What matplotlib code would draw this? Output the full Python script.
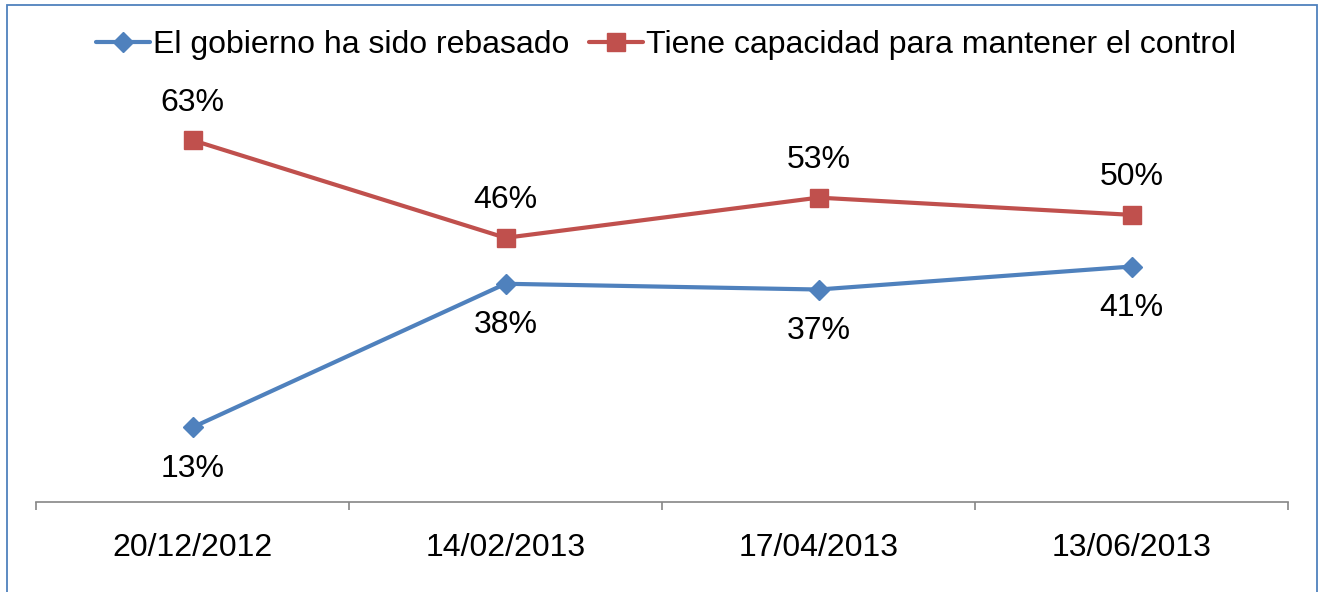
import matplotlib
matplotlib.use("Agg")
import matplotlib.pyplot as plt
from matplotlib.patches import Rectangle

plt.rcParams['font.family'] = ['Liberation Sans', 'DejaVu Sans']

categories = ["20/12/2012", "14/02/2013", "17/04/2013", "13/06/2013"]
rebasado = [13, 38, 37, 41]
control = [63, 46, 53, 50]
label_rebasado = "El gobierno ha sido rebasado"
label_control = "Tiene capacidad para mantener el control"

blue = "#4F81BD"
red = "#C0504D"
W, H = 1324, 592
fig = plt.figure(figsize=(W / 100, H / 100), dpi=100)
ax = fig.add_axes([36 / W, 90 / H, (1288 - 36) / W, 402 / H])

x = list(range(len(categories)))
ax.plot(x, rebasado, color=blue, lw=3.0, marker='D', ms=10, mec=blue, mfc=blue,
        label=label_rebasado, solid_capstyle='round')
ax.plot(x, control, color=red, lw=3.0, marker='s', ms=13.5, mec=red, mfc=red,
        label=label_control, solid_capstyle='round')

fs = 23
for xi, v in zip(x, rebasado):
    ax.annotate(f"{v}%", (xi, v), xytext=(0, -30), textcoords='offset points',
                ha='center', va='center', fontsize=fs, color='black')
for xi, v in zip(x, control):
    ax.annotate(f"{v}%", (xi, v), xytext=(0, 27), textcoords='offset points',
                ha='center', va='center', fontsize=fs, color='black')

ax.set_xlim(-0.5, len(categories) - 0.5)
ax.set_ylim(0, 70)
for s in ['top', 'right', 'left']:
    ax.spines[s].set_visible(False)
ax.spines['bottom'].set_color('#868686')
ax.spines['bottom'].set_linewidth(1.2)
ax.set_yticks([])
ax.set_xticks([i - 0.5 for i in range(len(categories) + 1)])
ax.set_xticklabels([])
ax.tick_params(axis='x', which='major', length=6, width=1.2, color='#868686', direction='out')
ax.set_xticks(x, minor=True)
ax.set_xticklabels(categories, minor=True, fontsize=fs)
ax.tick_params(axis='x', which='minor', length=0, pad=22)

fig.legend(loc='center', bbox_to_anchor=(0.503, 1 - 45 / H), ncol=2, frameon=False,
           fontsize=fs, handlelength=1.7, handletextpad=0.1, columnspacing=0.6,
           borderaxespad=0, borderpad=0)

fig.add_artist(Rectangle((7 / W, -0.1), (1317 - 7) / W, 1 - 5 / H + 0.1,
                         transform=fig.transFigure, fill=False, edgecolor='#4F81BD',
                         lw=1.3, clip_on=False))

fig.savefig("out.png", dpi=100)
